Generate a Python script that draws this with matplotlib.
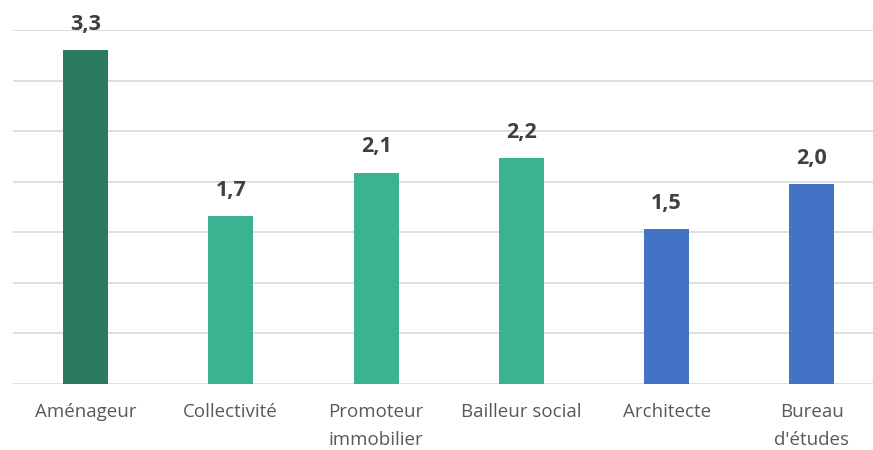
import matplotlib.pyplot as plt
import numpy as np

categories = ["Aménageur", "Collectivité", "Promoteur\nimmobilier", "Bailleur social", "Architecte", "Bureau\nd'études"]
values = [3.30, 1.66, 2.09, 2.23, 1.53, 1.98]
colors = ["#2a7b62", "#3cb390", "#3cb390", "#3cb390", "#4472c4", "#4472c4"]

plt.rcParams['font.family'] = ['Open Sans', 'DejaVu Sans']

fig = plt.figure(figsize=(8.73, 4.5), dpi=100)
ax = fig.add_axes([12.8 / 873, 66 / 450, (873 - 12.8) / 873, 354 / 450])

x = np.arange(len(categories))
bars = ax.bar(x, values, width=0.31, color=colors, zorder=3)

for xi, v in zip(x, values):
    ax.annotate(f"{v:.1f}".replace(".", ","), (xi, v), xytext=(0, 14.5),
                textcoords="offset points", ha="center", va="baseline",
                fontsize=15.5, fontweight="bold", color="#404040")

ax.set_xlim(-0.5, -0.5 + (873 - 12.8) / 145.3)
ax.set_ylim(0, 3.5)
ax.set_yticks(np.arange(0, 3.51, 0.5))
ax.yaxis.grid(True, color="#d9d9d9", linewidth=1.2, zorder=0)
ax.tick_params(axis="y", left=False, labelleft=False)
ax.tick_params(axis="x", length=0, pad=14)
ax.set_xticks(x)
ax.set_xticklabels(categories, fontsize=13.5, color="#595959", linespacing=1.7, va="top")
for s in ax.spines.values():
    s.set_visible(False)

fig.savefig("out.png", dpi=100)
